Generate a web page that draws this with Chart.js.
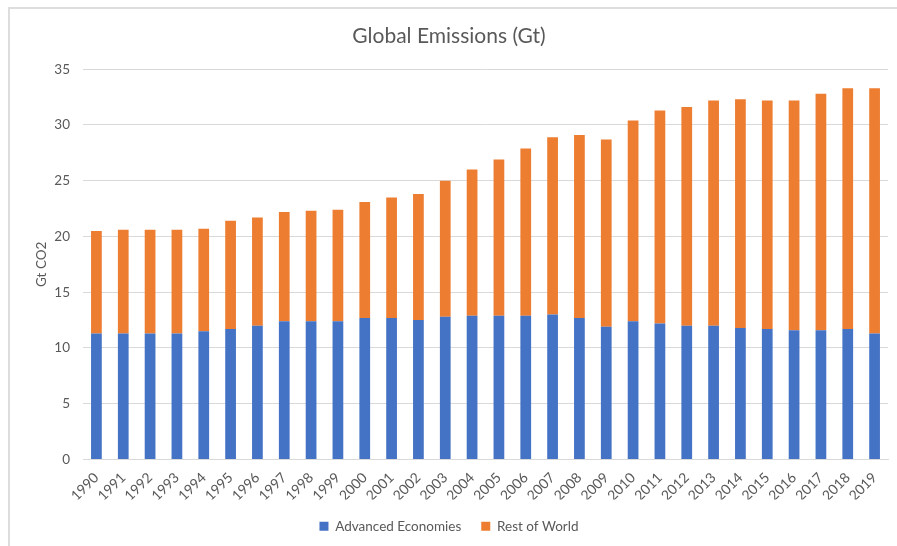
<!DOCTYPE html>
<html>
<head>
<meta charset="utf-8">
<script src="https://cdn.jsdelivr.net/npm/chart.js@4"></script>
<style>
  html, body { margin: 0; padding: 0; background: #ffffff; overflow: hidden; }
  #wrap { position: relative; width: 897px; height: 546px; overflow: hidden; }
  #frame { position: absolute; left: 8px; top: 7px; width: 889px; height: 539px;
           border-top: 2px solid #dddddd; border-left: 2px solid #dddddd;
           border-right: none; border-bottom: none; box-sizing: border-box; }
  canvas { position: absolute; left: 0; top: 0; }
</style>
</head>
<body>
<div id="wrap">
  <div id="frame"></div>
  <canvas id="chart" width="897" height="546"></canvas>
</div>
<script>
// Annual CO2 emissions, in gigatonnes
const years = ['1990','1991','1992','1993','1994','1995','1996','1997','1998','1999',
               '2000','2001','2002','2003','2004','2005','2006','2007','2008','2009',
               '2010','2011','2012','2013','2014','2015','2016','2017','2018','2019'];

const advancedEconomies = [11.3, 11.3, 11.3, 11.3, 11.5, 11.7, 12.0, 12.4, 12.4, 12.4,
                           12.7, 12.7, 12.5, 12.8, 12.9, 12.9, 12.9, 13.0, 12.7, 11.9,
                           12.4, 12.2, 12.0, 12.0, 11.8, 11.7, 11.6, 11.6, 11.7, 11.3];

const restOfWorld = [9.2, 9.3, 9.3, 9.3, 9.2, 9.7, 9.7, 9.8, 9.9, 10.0,
                     10.4, 10.8, 11.3, 12.2, 13.1, 14.0, 15.0, 15.9, 16.4, 16.8,
                     18.0, 19.1, 19.6, 20.2, 20.5, 20.5, 20.6, 21.2, 21.6, 22.0];

const yTicks = [0, 5, 10, 15, 20, 25, 30, 35];

const FONT = 'Lato, "Open Sans", sans-serif';
const TEXT = '#595959';
const GRID = '#d9d9d9';

new Chart(document.getElementById('chart'), {
  type: 'bar',
  data: {
    labels: years,
    datasets: [
      { label: 'Advanced Economies', data: advancedEconomies,
        backgroundColor: '#4472C4', barPercentage: 0.4, categoryPercentage: 1.0 },
      { label: 'Rest of World', data: restOfWorld,
        backgroundColor: '#ED7D31', barPercentage: 0.4, categoryPercentage: 1.0 }
    ]
  },
  options: {
    responsive: false,
    animation: false,
    devicePixelRatio: 1,
    layout: { padding: { left: 10, right: 9, top: 0, bottom: 3 } },
    plugins: {
      title: {
        display: true,
        text: 'Global Emissions (Gt)',
        color: TEXT,
        font: { family: FONT, size: 21, weight: 'normal' },
        padding: { top: 24, bottom: 20 }
      },
      legend: {
        position: 'bottom',
        labels: {
          color: TEXT,
          font: { family: FONT, size: 13.5 },
          boxWidth: 9, boxHeight: 9,
          padding: 20
        }
      },
      tooltip: { enabled: false }
    },
    scales: {
      x: {
        stacked: true,
        grid: { display: false },
        border: { display: true, color: GRID, width: 1 },
        ticks: { color: TEXT, font: { family: FONT, size: 14 },
                 minRotation: 45, maxRotation: 45, padding: 2, autoSkip: false },
        afterFit: s => { s.height = 40; }
      },
      y: {
        stacked: true,
        min: 0, max: 35,
        afterBuildTicks: s => { s.ticks = yTicks.map(v => ({ value: v })); },
        grid: { color: GRID, lineWidth: 1, drawTicks: false },
        border: { display: false },
        ticks: { color: TEXT, font: { family: FONT, size: 13.5 }, padding: 13 },
        title: { display: true, text: 'Gt CO2', color: TEXT,
                 font: { family: FONT, size: 13.5 }, padding: { top: 24, bottom: 0 } },
        afterFit: s => { s.width = 73; }
      }
    }
  }
});
</script>
</body>
</html>
